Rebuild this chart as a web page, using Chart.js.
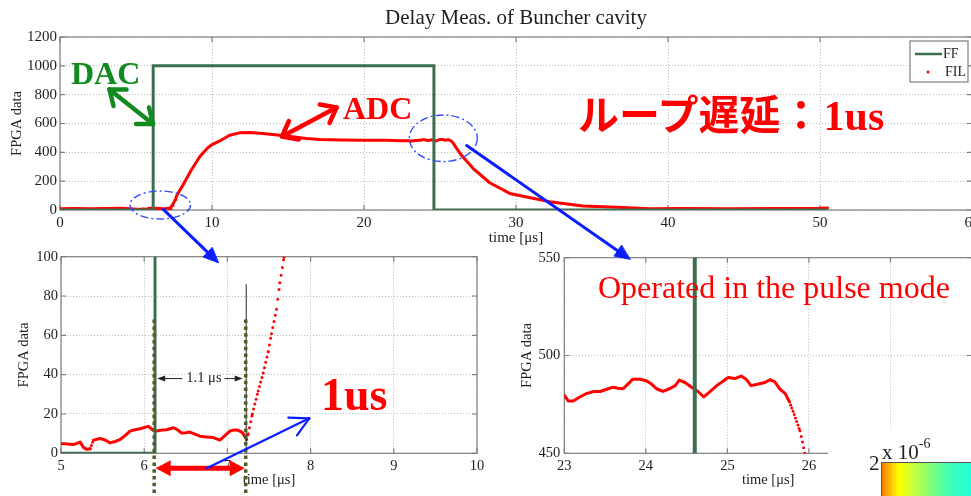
<!DOCTYPE html>
<html lang="ja">
<head>
<meta charset="utf-8">
<title>Delay Meas. of Buncher cavity</title>
<script src="https://cdn.jsdelivr.net/npm/chart.js@4.4.1/dist/chart.umd.min.js"></script>
<style>
  html, body { margin: 0; padding: 0; background: #fff; overflow: hidden; }
  #stage { position: relative; width: 971px; height: 496px; overflow: hidden; background: #fff; }
  .pane { position: absolute; }
  .pane canvas { display: block; }
  #notes { position: absolute; left: 0; top: 0; pointer-events: none; }
</style>
</head>
<body>
<div id="stage">
  <div class="pane" style="left:0;top:0;width:1000px;height:248px"><canvas id="mainChart" width="1000" height="248"></canvas></div>
  <div class="pane" style="left:0;top:245px;width:500px;height:251px"><canvas id="riseChart" width="500" height="251"></canvas></div>
  <div class="pane" style="left:480px;top:245px;width:520px;height:251px"><canvas id="fallChart" width="520" height="251"></canvas></div>
  <svg id="notes" width="971" height="496" xmlns="http://www.w3.org/2000/svg"></svg>
</div>
<script>
// ---- labels ----
const chartTitle = 'Delay Meas. of Buncher cavity';
const timeLabel = 'time [μs]';
const countLabel = 'FPGA data';

// ---- FF: feed-forward drive level, held from each switching time (µs) ----
const ffTime  = [0, 6.13, 24.6, 50.5];
const ffLevel = [0, 1000, 0, 0];

// ---- FIL: cavity signal read back by the FPGA ----
const filTime = [
  0, 1, 2, 3, 4, 4.6,
  5.0, 5.08, 5.16, 5.23, 5.27, 5.31, 5.35, 5.39, 5.47, 5.53, 5.59, 5.65, 5.71, 5.77,
  5.83, 5.89, 5.95, 6.05, 6.10, 6.15, 6.21, 6.27, 6.35, 6.40, 6.45, 6.50, 6.55, 6.61,
  6.67, 6.75, 6.83, 6.91, 6.97, 7.03, 7.09, 7.13, 7.18, 7.21, 7.23,
  7.25, 7.30, 7.37, 7.43, 7.49, 7.53, 7.59, 7.63, 7.68,
  8.09, 8.64, 9.19, 9.74, 10.07, 10.62, 11.16, 11.82, 12.48, 13.36, 14.45, 15.3, 16.2,
  17.1, 18.5, 20, 21.5, 22.4,
  23.00, 23.05, 23.11, 23.19, 23.27, 23.36, 23.44, 23.54, 23.60, 23.66, 23.72, 23.78,
  23.84, 23.93, 24.01, 24.07, 24.13, 24.21, 24.29, 24.36, 24.41, 24.48, 24.56, 24.64,
  24.71, 24.78, 24.87, 24.95, 25.01, 25.09, 25.17, 25.23, 25.29, 25.38, 25.46, 25.52,
  25.58, 25.64, 25.71, 25.76, 25.82, 25.89, 25.95,
  26.4, 27.17, 28.27, 29.59, 31.1, 32.2, 34.4, 36.6, 38.8, 41, 44, 47, 50, 50.5
];
const filValue = [
  8, 10, 9, 10, 12, 8,
  5, 4.7, 4.5, 5.7, 3, 2, 2.3, 6.7, 7.5, 6.8, 5.3, 6, 7, 9,
  11.3, 12, 12.5, 13.7, 12, 11.3, 11.8, 12, 13, 12, 10.3, 10.5, 10.8, 9.8,
  8.7, 8.3, 8, 6.7, 9, 11.3, 11.9, 11.7, 10.5, 8.5, 7,
  10, 20, 31.7, 40.8, 51.7, 60.8, 73.3, 86.7, 99.7,
  173, 277, 369, 434, 457, 485, 519, 535, 537, 530, 519, 508, 496,
  489, 485, 484, 483, 481,
  479.7, 476.7, 476.7, 478.8, 480.5, 481.6, 481.6, 483, 483.8, 483.3, 483, 485.4,
  487.9, 487.9, 487, 485.4, 483, 481.6, 483, 484.6, 487.4, 486.2, 483.8, 481.6,
  478.8, 481.3, 484.6, 487, 488.7, 488.2, 489.5, 487.9, 484.6, 485.4, 486.2, 487.6,
  486.6, 483, 480.5, 476.4, 469.8, 461.5, 450,
  381, 289, 189, 115, 81, 58, 28, 19, 8, 10, 8, 11, 12, 14
];

// ---- tick values ----
const mainTicksX = [0, 10, 20, 30, 40, 50, 60];
const mainTicksY = [0, 200, 400, 600, 800, 1000, 1200];
const riseTicksX = [5, 6, 7, 8, 9, 10];
const riseTicksY = [0, 20, 40, 60, 80, 100];
const fallTicksX = [23, 24, 25, 26, 27, 28];
const fallTicksY = [450, 500, 550];

// ---- measured loop delay (µs) ----
const delayStart = 6.12;
const delayValue = 1.1;

// ---- styling ----
const SERIF = '"Liberation Serif", "Times New Roman", serif';
const CJK = '"Noto Sans CJK JP", "Noto Sans CJK SC", sans-serif';
const INK = '#1e1e1e';
const GRID = '#bcbcbc';
const FRAME = '#7f7f7f';
const FF_COLOR = '#3b6f4f';
const FIL_COLOR = '#ff0000';
const SAMPLE_STEP = 0.015; // µs between FIL samples

const points = (xs, ys) => xs.map((x, i) => ({ x, y: ys[i] }));

// Where neighbouring samples separate on screen, show them as single dots.
function sampleDash(ctx) {
  const { p0, p1 } = ctx;
  const n = Math.max((p1.parsed.x - p0.parsed.x) / SAMPLE_STEP, 1);
  const gap = Math.hypot(p1.x - p0.x, p1.y - p0.y) / n;
  return gap > 3 ? [0, gap] : undefined;
}

function axis(ticks, o) {
  return {
    type: 'linear',
    min: ticks[0],
    max: ticks[ticks.length - 1],
    afterBuildTicks: s => { s.ticks = ticks.map(value => ({ value })); },
    ticks: {
      color: INK, padding: o.tickPad, maxRotation: 0, autoSkip: false,
      font: { family: SERIF, size: o.size },
      callback: v => String(v)
    },
    grid: { color: GRID, lineWidth: 1, drawTicks: false },
    border: { display: false, dash: [1, 2] },
    title: { display: true, text: o.title, color: INK, font: { family: SERIF, size: o.titleSize || o.size }, padding: o.titlePad },
    afterFit: o.fit
  };
}

// Box around the plot with inward tick marks
const framePlugin = {
  id: 'frame',
  beforeDatasetsDraw(chart) {
    const { ctx, chartArea: a, scales: { x, y } } = chart;
    const t = 5;
    ctx.save();
    ctx.strokeStyle = FRAME;
    ctx.lineWidth = 1.2;
    ctx.strokeRect(a.left, a.top, a.right - a.left, a.bottom - a.top);
    ctx.beginPath();
    x.ticks.forEach(({ value }) => {
      const px = x.getPixelForValue(value);
      ctx.moveTo(px, a.bottom); ctx.lineTo(px, a.bottom - t);
      ctx.moveTo(px, a.top); ctx.lineTo(px, a.top + t);
    });
    y.ticks.forEach(({ value }) => {
      const py = y.getPixelForValue(value);
      ctx.moveTo(a.left, py); ctx.lineTo(a.left + t, py);
      ctx.moveTo(a.right, py); ctx.lineTo(a.right - t, py);
    });
    ctx.stroke();
    ctx.restore();
  }
};

// Title centred over the plot area
const headlinePlugin = {
  id: 'headline',
  afterDraw(chart, args, o) {
    if (!o.text) return;
    const { ctx, chartArea: a } = chart;
    ctx.save();
    ctx.font = `${o.size}px ${SERIF}`;
    ctx.fillStyle = INK;
    ctx.textAlign = 'center';
    ctx.textBaseline = 'alphabetic';
    ctx.fillText(o.text, (a.left + a.right) / 2, o.baseline);
    ctx.restore();
  }
};

// Boxed legend in the upper right corner
const boxLegendPlugin = {
  id: 'boxLegend',
  afterDatasetsDraw(chart) {
    const { ctx, chartArea: a } = chart;
    const w = 58, h = 41, x0 = a.right - 4 - w, y0 = a.top + 4;
    ctx.save();
    ctx.fillStyle = '#fff';
    ctx.fillRect(x0, y0, w, h);
    ctx.strokeStyle = FRAME;
    ctx.lineWidth = 1.2;
    ctx.strokeRect(x0, y0, w, h);
    ctx.font = `14px ${SERIF}`;
    ctx.textBaseline = 'middle';
    chart.data.datasets.forEach((ds, i) => {
      const cy = y0 + 13 + i * 18;
      if (ds.stepped) {
        ctx.strokeStyle = ds.borderColor;
        ctx.lineWidth = 2.5;
        ctx.beginPath(); ctx.moveTo(x0 + 5, cy); ctx.lineTo(x0 + 32, cy); ctx.stroke();
        ctx.fillStyle = INK;
        ctx.fillText(ds.label, x0 + 33, cy);
      } else {
        ctx.fillStyle = ds.borderColor;
        ctx.beginPath(); ctx.arc(x0 + 18, cy, 1.5, 0, Math.PI * 2); ctx.fill();
        ctx.fillStyle = INK;
        ctx.fillText(ds.label, x0 + 35, cy);
      }
    });
    ctx.restore();
  }
};

// Delay markers on the rise view: onset of drive and of response
const delayPlugin = {
  id: 'delayMarks',
  afterDatasetsDraw(chart) {
    const { ctx, chartArea: a, scales: { x, y } } = chart;
    const x0 = x.getPixelForValue(delayStart);
    const x1 = x.getPixelForValue(delayStart + delayValue);
    ctx.save();
    // thin cursor at the response onset
    ctx.strokeStyle = '#222';
    ctx.lineWidth = 1;
    ctx.beginPath(); ctx.moveTo(x1 + 0.5, y.getPixelForValue(86)); ctx.lineTo(x1 + 0.5, y.getPixelForValue(0)); ctx.stroke();
    // dotted marker lines
    ctx.strokeStyle = '#4d5e29';
    ctx.lineWidth = 3.5;
    ctx.setLineDash([3.5, 3.3]);
    [x0, x1].forEach(px => {
      ctx.beginPath(); ctx.moveTo(px, y.getPixelForValue(68)); ctx.lineTo(px, chart.height); ctx.stroke();
    });
    ctx.setLineDash([]);
    // interval label with arrows
    const ly = y.getPixelForValue(38);
    const text = `${delayValue} μs`;
    ctx.font = `14.5px ${SERIF}`;
    ctx.fillStyle = '#222';
    ctx.textAlign = 'center';
    ctx.textBaseline = 'middle';
    const mid = (x0 + x1) / 2 + 4;
    const tw = ctx.measureText(text).width;
    ctx.fillText(text, mid, ly);
    const smallArrow = (from, to) => {
      const dir = Math.sign(to - from);
      ctx.strokeStyle = '#222'; ctx.lineWidth = 1;
      ctx.beginPath(); ctx.moveTo(from, ly); ctx.lineTo(to - dir * 6, ly); ctx.stroke();
      ctx.beginPath(); ctx.moveTo(to, ly); ctx.lineTo(to - dir * 8, ly - 3); ctx.lineTo(to - dir * 8, ly + 3); ctx.closePath(); ctx.fill();
    };
    smallArrow(mid - tw / 2 - 4, x0 + 3);
    smallArrow(mid + tw / 2 + 3, x1 - 3);
    // red span arrow below the axis
    const ay = a.bottom + 15;
    const head = 15, half = 8;
    ctx.fillStyle = FIL_COLOR;
    ctx.strokeStyle = FIL_COLOR;
    ctx.lineWidth = 5;
    ctx.beginPath(); ctx.moveTo(x0 + head - 1, ay); ctx.lineTo(x1 - head + 1, ay); ctx.stroke();
    ctx.beginPath(); ctx.moveTo(x0 + 1.5, ay); ctx.lineTo(x0 + 1.5 + head, ay - half); ctx.lineTo(x0 + 1.5 + head, ay + half); ctx.closePath(); ctx.fill();
    ctx.beginPath(); ctx.moveTo(x1 - 1, ay); ctx.lineTo(x1 - 1 - head, ay - half); ctx.lineTo(x1 - 1 - head, ay + half); ctx.closePath(); ctx.fill();
    ctx.restore();
  }
};

function buildChart(id, cfg) {
  return new Chart(document.getElementById(id), {
    type: 'line',
    data: {
      datasets: [
        { label: 'FF', data: points(ffTime, ffLevel), stepped: true, borderColor: FF_COLOR,
          borderWidth: cfg.ffWidth, pointRadius: 0, fill: false },
        { label: 'FIL', data: points(filTime, filValue), borderColor: FIL_COLOR, borderWidth: 3,
          pointRadius: 0, fill: false, tension: 0, borderCapStyle: 'round', borderJoinStyle: 'round',
          segment: { borderDash: sampleDash } }
      ]
    },
    options: {
      responsive: false,
      animation: false,
      events: [],
      layout: { padding: cfg.padding },
      scales: { x: cfg.x, y: cfg.y },
      plugins: {
        legend: { display: false },
        tooltip: { enabled: false },
        headline: cfg.headline || {}
      }
    },
    plugins: [framePlugin, headlinePlugin].concat(cfg.extra || [])
  });
}

// Full pulse
buildChart('mainChart', {
  ffWidth: 3,
  padding: { top: 37, right: 28, left: 0, bottom: 0 },
  x: axis(mainTicksX, { size: 15, tickPad: 4, title: timeLabel, titlePad: 1, fit: s => { s.height = 38; } }),
  y: axis(mainTicksY, { size: 15, tickPad: 3, title: countLabel, titleSize: 14.5, titlePad: 8.3, fit: s => { s.width = 60; } }),
  headline: { text: chartTitle, size: 21, baseline: 24 },
  extra: [boxLegendPlugin]
});

// Rising edge, 5–10 µs
buildChart('riseChart', {
  ffWidth: 3,
  padding: { top: 8.3, right: 23, left: 0, bottom: 0 },
  x: axis(riseTicksX, { size: 14.5, tickPad: 4, title: timeLabel, titlePad: 6.8, fit: s => { s.height = 42.7; } }),
  y: axis(riseTicksY, { size: 14.5, tickPad: 3, title: countLabel, titlePad: 15.3, fit: s => { s.width = 61; } }),
  extra: [delayPlugin]
});

// Falling edge, 23 µs onward
buildChart('fallChart', {
  ffWidth: 4,
  padding: { top: 6, right: 28, left: 0, bottom: 0 },
  x: axis(fallTicksX, { size: 14.5, tickPad: 4, title: timeLabel, titlePad: 6.8, fit: s => { s.height = 42.7; } }),
  y: axis(fallTicksY, { size: 14.5, tickPad: 4, title: countLabel, titlePad: 38.3, fit: s => { s.width = 84.3; } })
});

// ---- slide notes drawn over the charts ----
const NS = 'http://www.w3.org/2000/svg';
const svg = document.getElementById('notes');
function el(tag, attrs, parent = svg) {
  const e = document.createElementNS(NS, tag);
  for (const k in attrs) e.setAttribute(k, attrs[k]);
  parent.appendChild(e);
  return e;
}
function text(str, attrs) {
  const t = el('text', attrs);
  t.textContent = str;
  return t;
}
// straight arrow; head: 'filled' or 'open'; both: heads at both ends
function arrow(x1, y1, x2, y2, o) {
  const g = el('g', { stroke: o.color, fill: o.color, 'stroke-width': o.width, 'stroke-linecap': 'round', 'stroke-linejoin': 'round' });
  const len = Math.hypot(x2 - x1, y2 - y1);
  const ux = (x2 - x1) / len, uy = (y2 - y1) / len;
  const headAt = (tx, ty, dx, dy) => {
    if (o.head === 'filled') {
      const bx = tx - dx * o.len, by = ty - dy * o.len;
      el('polygon', { points: `${tx},${ty} ${bx - dy * o.half},${by + dx * o.half} ${bx + dy * o.half},${by - dx * o.half}`, 'stroke-width': 1 }, g);
    } else {
      const a = o.angle * Math.PI / 180;
      [a, -a].forEach(r => {
        const c = Math.cos(r), s = Math.sin(r);
        const ax = -(dx * c - dy * s), ay = -(dx * s + dy * c);
        el('line', { x1: tx, y1: ty, x2: tx + ax * o.len, y2: ty + ay * o.len }, g);
      });
    }
  };
  const inset = o.head === 'filled' ? o.len * 0.8 : 0;
  const sx = o.both ? x1 + ux * inset : x1, sy = o.both ? y1 + uy * inset : y1;
  el('line', { x1: sx, y1: sy, x2: x2 - ux * inset, y2: y2 - uy * inset }, g);
  headAt(x2, y2, ux, uy);
  if (o.both) headAt(x1, y1, -ux, -uy);
}

// dash-dot rings around the edges
const rings = el('g', { fill: 'none', stroke: '#2f4dff', 'stroke-width': 1.4, 'stroke-dasharray': '8 3 2 3' });
el('ellipse', { cx: 160.3, cy: 205, rx: 30.3, ry: 14 }, rings);
el('ellipse', { cx: 443.3, cy: 138.3, rx: 34, ry: 23.3 }, rings);

// pointers to the zoomed views
arrow(163.3, 209.3, 218.3, 262.7, { color: '#0a1eff', width: 3, head: 'filled', len: 15, half: 6.5 });
arrow(466.7, 145.5, 630, 259.3, { color: '#0a1eff', width: 3, head: 'filled', len: 15, half: 6.5 });
arrow(206.7, 468.3, 309.3, 418.3, { color: '#0a1eff', width: 2.2, head: 'open', len: 21, angle: 28 });

// DAC / ADC callouts
arrow(109.5, 89.5, 153, 124, { color: '#118a1f', width: 4.5, head: 'open', len: 17, angle: 38, both: true });
arrow(282, 136.5, 336.5, 107.5, { color: FIL_COLOR, width: 4.5, head: 'open', len: 17, angle: 38, both: true });
text('DAC', { x: 71, y: 84, 'font-family': SERIF, 'font-weight': 700, 'font-size': 32, fill: '#118a1f' });
text('ADC', { x: 343, y: 119, 'font-family': SERIF, 'font-weight': 700, 'font-size': 32, fill: FIL_COLOR });

// headline remark
const remark = el('text', { x: 578, y: 130, 'font-weight': 700, fill: FIL_COLOR });
const r1 = el('tspan', { 'font-family': CJK, 'font-size': 41 }, remark); r1.textContent = 'ループ遅延：';
const r2 = el('tspan', { 'font-family': SERIF, 'font-size': 42, dx: 2 }, remark); r2.textContent = '1us';

text('Operated in the pulse mode', { x: 598, y: 298, 'font-family': SERIF, 'font-size': 32, fill: FIL_COLOR });
text('1us', { x: 321, y: 410, 'font-family': SERIF, 'font-weight': 700, 'font-size': 46, fill: FIL_COLOR });

// colour-scale fragment in the lower right corner
el('rect', { x: 828, y: 429, width: 150, height: 70, fill: '#fff' });
const defs = el('defs', {});
const grad = el('linearGradient', { id: 'cbar', x1: 0, x2: 1, y1: 0, y2: 0 }, defs);
[[0, '#ff7800'], [0.08, '#ffb400'], [0.18, '#ffff00'], [0.34, '#c4ff3c'], [0.52, '#80ff78'],
 [0.72, '#3cffb6'], [1, '#1cffe4']].forEach(([off, c]) => el('stop', { offset: off, 'stop-color': c }, grad));
el('rect', { x: 881.5, y: 462.5, width: 95, height: 40, fill: 'url(#cbar)', stroke: '#555', 'stroke-width': 1 });
text('2', { x: 869, y: 470, 'font-family': SERIF, 'font-size': 21, fill: INK });
const mag = el('text', { x: 882, y: 459, 'font-family': SERIF, 'font-size': 21, fill: INK });
const m1 = el('tspan', {}, mag); m1.textContent = 'x 10';
const m2 = el('tspan', { dy: -11, 'font-size': 14 }, mag); m2.textContent = '-6';
</script>
</body>
</html>
